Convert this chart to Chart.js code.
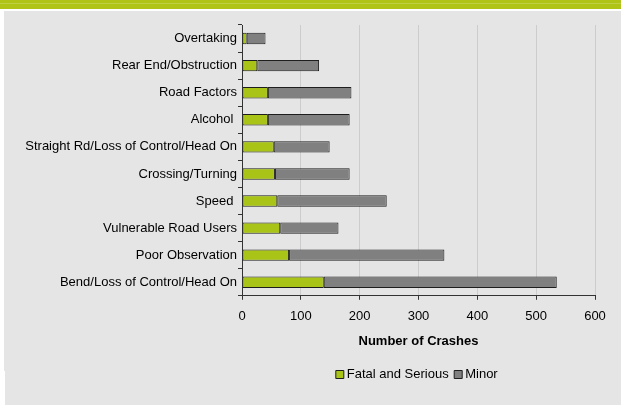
<!DOCTYPE html>
<html>
<head>
<meta charset="utf-8">
<script src="https://cdn.jsdelivr.net/npm/chart.js@4/dist/chart.umd.min.js"></script>
<style>
  html, body { margin: 0; padding: 0; }
  body { width: 621px; height: 405px; background: #e5e5e5; position: relative; overflow: hidden; }
  #band { position: absolute; left: 0; top: 0; width: 621px; height: 9px; background: #afc417; }
  #bandline { position: absolute; left: 0; top: 3px; width: 621px; height: 1px; background: #bccf45; }
  #white { position: absolute; left: 0; top: 9px; width: 621px; height: 2px; background: #ffffff; }
  #strip1 { position: absolute; left: 0; top: 11px; width: 4px; height: 360px; background: #ffffff; }
  #strip2 { position: absolute; left: 0; top: 371px; width: 5px; height: 34px; background: #ffffff; }
  #wrap { position: absolute; left: 0; top: 0; width: 621px; height: 405px; }
</style>
</head>
<body>
<div id="band"></div><div id="bandline"></div><div id="white"></div>
<div id="strip1"></div><div id="strip2"></div>
<div id="wrap"><canvas id="c" width="621" height="405"></canvas></div>
<script>
const categories = [
  "Overtaking",
  "Rear End/Obstruction",
  "Road Factors",
  "Alcohol ",
  "Straight Rd/Loss of Control/Head On",
  "Crossing/Turning",
  "Speed ",
  "Vulnerable Road Users",
  "Poor Observation",
  "Bend/Loss of Control/Head On"
];
const fatalSerious = [8, 26, 44, 44, 54, 56, 60, 65, 80, 139];
const minor = [32, 105, 142, 139, 95, 127, 186, 99, 264, 396];
const xTicks = [0, 100, 200, 300, 400, 500, 600];
const seriesNames = ["Fatal and Serious", "Minor"];

const font = { family: "'Liberation Sans', Arial, sans-serif", size: 13 };

new Chart(document.getElementById('c'), {
  type: 'bar',
  data: {
    labels: categories,
    datasets: [
      { label: seriesNames[0], data: fatalSerious, backgroundColor: '#a9c416', borderColor: '#1e1e1e', borderWidth: 1, borderSkipped: false, pointStyle: 'rect' },
      { label: seriesNames[1], data: minor, backgroundColor: '#808080', borderColor: '#1e1e1e', borderWidth: 1, borderSkipped: false, pointStyle: 'rect' }
    ]
  },
  options: {
    indexAxis: 'y',
    responsive: false,
    animation: false,
    devicePixelRatio: 1,
    barPercentage: 0.42,
    categoryPercentage: 1,
    layout: { padding: { left: 0, right: 26, top: 25, bottom: 14 } },
    plugins: {
      legend: {
        position: 'bottom',
        fullSize: false,
        labels: { usePointStyle: true, pointStyle: 'rect', boxWidth: 1, boxHeight: 8, padding: 9, color: '#000', font: font }
      },
      tooltip: { enabled: false }
    },
    scales: {
      x: {
        stacked: true,
        min: 0, max: 600,
        afterBuildTicks: (s) => { s.ticks = xTicks.map(v => ({ value: v })); },
        ticks: { color: '#000', font: font, padding: 9 },
        grid: { color: '#cccccc', tickColor: '#333', tickLength: 4, lineWidth: 1 },
        border: { color: '#333', width: 1 },
        title: { display: true, text: 'Number of Crashes', color: '#000', font: { family: font.family, size: 13, weight: 'bold' }, padding: { top: 0, bottom: 10 } }
      },
      y: {
        stacked: true,
        afterFit: (s) => { s.width = 242; },
        ticks: { color: '#000', font: font, padding: 1 },
        grid: { drawOnChartArea: false, tickColor: '#333', tickLength: 4, offset: true },
        border: { color: '#333', width: 1 }
      }
    }
  }
});
</script>
</body>
</html>
